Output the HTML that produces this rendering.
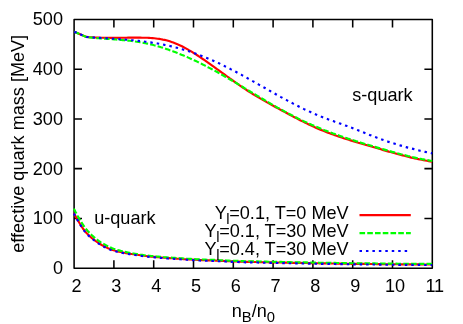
<!DOCTYPE html>
<html><head><meta charset="utf-8"><style>
html,body{margin:0;padding:0;background:#fff;}
svg{display:block;will-change:transform;transform:translateZ(0)}
text{font-family:"Liberation Sans",sans-serif;font-size:18.1px;fill:#000}
</style></head><body>
<svg width="463" height="324" viewBox="0 0 463 324">
<g fill="none" stroke="#000" stroke-width="1.55" stroke-linejoin="round">
<rect x="74.1" y="19.5" width="358.2" height="248.7"/>
<path d="M113.9,268.1 v-7.9 M113.9,19.5 v7.9"/><path d="M153.7,268.1 v-7.9 M153.7,19.5 v7.9"/><path d="M193.5,268.1 v-7.9 M193.5,19.5 v7.9"/><path d="M233.3,268.1 v-7.9 M233.3,19.5 v7.9"/><path d="M273.1,268.1 v-7.9 M273.1,19.5 v7.9"/><path d="M312.9,268.1 v-7.9 M312.9,19.5 v7.9"/><path d="M352.7,268.1 v-7.9 M352.7,19.5 v7.9"/><path d="M392.5,268.1 v-7.9 M392.5,19.5 v7.9"/><path d="M74.1,218.4 h7.9 M432.3,218.4 h-7.9"/><path d="M74.1,168.6 h7.9 M432.3,168.6 h-7.9"/><path d="M74.1,118.9 h7.9 M432.3,118.9 h-7.9"/><path d="M74.1,69.2 h7.9 M432.3,69.2 h-7.9"/>
</g>
<g fill="none" stroke-width="2.15" stroke-linejoin="round">
<path d="M74.3,31.7 L86.4,36.9 L88.1,37.0 L89.9,37.2 L91.6,37.3 L93.4,37.4 L95.1,37.5 L96.8,37.6 L98.6,37.6 L100.3,37.7 L102.0,37.7 L103.8,37.8 L105.5,37.8 L107.3,37.8 L109.0,37.8 L110.7,37.8 L112.5,37.8 L114.2,37.8 L115.9,37.8 L117.7,37.8 L119.4,37.7 L121.2,37.7 L122.9,37.7 L124.6,37.7 L126.4,37.7 L128.1,37.6 L129.8,37.6 L131.6,37.6 L133.3,37.6 L135.1,37.6 L136.8,37.6 L138.5,37.6 L140.3,37.6 L142.0,37.7 L143.7,37.7 L145.5,37.7 L147.2,37.8 L149.0,37.9 L150.7,38.0 L152.4,38.1 L154.2,38.3 L155.9,38.5 L157.6,38.7 L159.4,38.9 L161.1,39.2 L162.9,39.6 L164.6,39.9 L166.3,40.3 L168.1,40.8 L169.8,41.3 L171.5,41.9 L173.3,42.5 L175.0,43.2 L176.8,43.9 L178.5,44.7 L180.2,45.5 L182.0,46.3 L183.7,47.2 L185.4,48.1 L187.2,49.1 L188.9,50.1 L190.7,51.1 L192.4,52.2 L194.1,53.3 L195.9,54.4 L197.6,55.5 L199.3,56.6 L201.1,57.8 L202.8,59.0 L204.6,60.2 L206.3,61.4 L208.0,62.6 L209.8,63.9 L211.5,65.1 L213.3,66.4 L215.0,67.6 L216.7,68.9 L218.5,70.1 L220.2,71.4 L221.9,72.7 L223.7,73.9 L225.4,75.2 L227.2,76.5 L228.9,77.7 L230.6,79.0 L232.4,80.2 L234.1,81.5 L235.8,82.7 L237.6,83.9 L239.3,85.1 L241.1,86.3 L242.8,87.5 L244.5,88.7 L246.3,89.8 L248.0,91.0 L249.7,92.1 L251.5,93.2 L253.2,94.3 L255.0,95.3 L256.7,96.4 L258.4,97.4 L260.2,98.4 L261.9,99.4 L263.6,100.4 L265.4,101.4 L267.1,102.4 L268.9,103.3 L270.6,104.3 L272.3,105.3 L274.1,106.2 L275.8,107.2 L277.5,108.1 L279.3,109.1 L281.0,110.0 L282.8,111.0 L284.5,111.9 L286.2,112.8 L288.0,113.8 L289.7,114.7 L291.4,115.6 L293.2,116.6 L294.9,117.5 L296.7,118.4 L298.4,119.3 L300.1,120.2 L301.9,121.1 L303.6,121.9 L305.3,122.8 L307.1,123.6 L308.8,124.5 L310.6,125.3 L312.3,126.1 L314.0,126.9 L315.8,127.7 L317.5,128.4 L319.3,129.2 L321.0,129.9 L322.7,130.6 L324.5,131.3 L326.2,132.0 L327.9,132.7 L329.7,133.3 L331.4,134.0 L333.2,134.6 L334.9,135.2 L336.6,135.8 L338.4,136.4 L340.1,137.0 L341.8,137.6 L343.6,138.2 L345.3,138.7 L347.1,139.3 L348.8,139.8 L350.5,140.4 L352.3,140.9 L354.0,141.4 L355.7,141.9 L357.5,142.5 L359.2,143.0 L361.0,143.5 L362.7,144.0 L364.4,144.5 L366.2,145.0 L367.9,145.5 L369.6,146.0 L371.4,146.5 L373.1,147.0 L374.9,147.5 L376.6,148.0 L378.3,148.5 L380.1,149.0 L381.8,149.6 L383.5,150.1 L385.3,150.6 L387.0,151.1 L388.8,151.6 L390.5,152.0 L392.2,152.5 L394.0,153.0 L395.7,153.5 L397.4,154.0 L399.2,154.5 L400.9,154.9 L402.7,155.4 L404.4,155.8 L406.1,156.3 L407.9,156.7 L409.6,157.1 L411.3,157.6 L413.1,158.0 L414.8,158.4 L416.6,158.8 L418.3,159.1 L420.0,159.5 L421.8,159.8 L423.5,160.2 L425.2,160.5 L427.0,160.8 L428.7,161.1 L430.5,161.4 L432.2,161.7" stroke="#ff0000"/>
<path d="M74.3,31.7 L86.4,37.1 L88.1,37.3 L89.9,37.5 L91.6,37.6 L93.4,37.8 L95.1,38.0 L96.8,38.1 L98.6,38.2 L100.3,38.4 L102.0,38.5 L103.8,38.6 L105.5,38.8 L107.3,38.9 L109.0,39.0 L110.7,39.1 L112.5,39.3 L114.2,39.4 L115.9,39.5 L117.7,39.7 L119.4,39.8 L121.2,40.0 L122.9,40.1 L124.6,40.3 L126.4,40.5 L128.1,40.6 L129.8,40.8 L131.6,41.0 L133.3,41.3 L135.1,41.5 L136.8,41.8 L138.5,42.0 L140.3,42.3 L142.0,42.6 L143.7,42.9 L145.5,43.3 L147.2,43.6 L149.0,44.0 L150.7,44.4 L152.4,44.8 L154.2,45.3 L155.9,45.7 L157.6,46.2 L159.4,46.7 L161.1,47.3 L162.9,47.8 L164.6,48.4 L166.3,49.0 L168.1,49.6 L169.8,50.2 L171.5,50.8 L173.3,51.4 L175.0,52.1 L176.8,52.8 L178.5,53.5 L180.2,54.2 L182.0,54.9 L183.7,55.6 L185.4,56.4 L187.2,57.1 L188.9,57.9 L190.7,58.7 L192.4,59.5 L194.1,60.3 L195.9,61.1 L197.6,61.9 L199.3,62.8 L201.1,63.6 L202.8,64.5 L204.6,65.4 L206.3,66.3 L208.0,67.2 L209.8,68.1 L211.5,69.0 L213.3,70.0 L215.0,70.9 L216.7,71.8 L218.5,72.8 L220.2,73.8 L221.9,74.8 L223.7,75.7 L225.4,76.7 L227.2,77.7 L228.9,78.8 L230.6,79.8 L232.4,80.8 L234.1,81.8 L235.8,82.8 L237.6,83.9 L239.3,84.9 L241.1,86.0 L242.8,87.0 L244.5,88.1 L246.3,89.1 L248.0,90.2 L249.7,91.2 L251.5,92.3 L253.2,93.3 L255.0,94.3 L256.7,95.4 L258.4,96.4 L260.2,97.5 L261.9,98.5 L263.6,99.5 L265.4,100.6 L267.1,101.6 L268.9,102.6 L270.6,103.6 L272.3,104.6 L274.1,105.6 L275.8,106.6 L277.5,107.6 L279.3,108.5 L281.0,109.5 L282.8,110.4 L284.5,111.4 L286.2,112.3 L288.0,113.2 L289.7,114.1 L291.4,115.0 L293.2,115.9 L294.9,116.8 L296.7,117.7 L298.4,118.6 L300.1,119.4 L301.9,120.3 L303.6,121.1 L305.3,121.9 L307.1,122.7 L308.8,123.5 L310.6,124.3 L312.3,125.1 L314.0,125.8 L315.8,126.6 L317.5,127.3 L319.3,128.0 L321.0,128.8 L322.7,129.5 L324.5,130.2 L326.2,130.8 L327.9,131.5 L329.7,132.2 L331.4,132.8 L333.2,133.5 L334.9,134.1 L336.6,134.7 L338.4,135.3 L340.1,135.9 L341.8,136.5 L343.6,137.1 L345.3,137.7 L347.1,138.3 L348.8,138.9 L350.5,139.4 L352.3,140.0 L354.0,140.5 L355.7,141.1 L357.5,141.6 L359.2,142.2 L361.0,142.7 L362.7,143.2 L364.4,143.8 L366.2,144.3 L367.9,144.8 L369.6,145.3 L371.4,145.8 L373.1,146.4 L374.9,146.9 L376.6,147.4 L378.3,147.9 L380.1,148.4 L381.8,148.9 L383.5,149.4 L385.3,149.9 L387.0,150.4 L388.8,150.9 L390.5,151.4 L392.2,151.9 L394.0,152.3 L395.7,152.8 L397.4,153.3 L399.2,153.7 L400.9,154.2 L402.7,154.6 L404.4,155.1 L406.1,155.5 L407.9,156.0 L409.6,156.4 L411.3,156.8 L413.1,157.2 L414.8,157.6 L416.6,158.0 L418.3,158.3 L420.0,158.7 L421.8,159.1 L423.5,159.4 L425.2,159.8 L427.0,160.1 L428.7,160.4 L430.5,160.7 L432.2,161.0" stroke="#00ff00" stroke-dasharray="5.6,2.15"/>
<path d="M74.3,31.7 L86.4,37.0 L88.1,37.1 L89.9,37.3 L91.6,37.4 L93.4,37.5 L95.1,37.6 L96.8,37.7 L98.6,37.8 L100.3,37.9 L102.0,38.1 L103.8,38.2 L105.5,38.3 L107.3,38.4 L109.0,38.5 L110.7,38.6 L112.5,38.7 L114.2,38.8 L115.9,38.9 L117.7,39.1 L119.4,39.2 L121.2,39.3 L122.9,39.4 L124.6,39.6 L126.4,39.7 L128.1,39.9 L129.8,40.0 L131.6,40.2 L133.3,40.3 L135.1,40.5 L136.8,40.7 L138.5,40.9 L140.3,41.1 L142.0,41.3 L143.7,41.5 L145.5,41.7 L147.2,41.9 L149.0,42.2 L150.7,42.4 L152.4,42.7 L154.2,43.0 L155.9,43.2 L157.6,43.5 L159.4,43.8 L161.1,44.2 L162.9,44.5 L164.6,44.9 L166.3,45.2 L168.1,45.6 L169.8,46.0 L171.5,46.4 L173.3,46.8 L175.0,47.3 L176.8,47.7 L178.5,48.2 L180.2,48.7 L182.0,49.2 L183.7,49.7 L185.4,50.2 L187.2,50.8 L188.9,51.3 L190.7,51.9 L192.4,52.5 L194.1,53.1 L195.9,53.7 L197.6,54.4 L199.3,55.0 L201.1,55.7 L202.8,56.4 L204.6,57.1 L206.3,57.8 L208.0,58.5 L209.8,59.2 L211.5,60.0 L213.3,60.7 L215.0,61.5 L216.7,62.3 L218.5,63.1 L220.2,63.9 L221.9,64.8 L223.7,65.6 L225.4,66.5 L227.2,67.3 L228.9,68.2 L230.6,69.1 L232.4,70.0 L234.1,70.9 L235.8,71.8 L237.6,72.8 L239.3,73.7 L241.1,74.6 L242.8,75.6 L244.5,76.6 L246.3,77.5 L248.0,78.5 L249.7,79.4 L251.5,80.4 L253.2,81.4 L255.0,82.4 L256.7,83.4 L258.4,84.4 L260.2,85.3 L261.9,86.3 L263.6,87.3 L265.4,88.3 L267.1,89.3 L268.9,90.3 L270.6,91.3 L272.3,92.2 L274.1,93.2 L275.8,94.2 L277.5,95.2 L279.3,96.1 L281.0,97.1 L282.8,98.1 L284.5,99.0 L286.2,99.9 L288.0,100.9 L289.7,101.8 L291.4,102.7 L293.2,103.6 L294.9,104.5 L296.7,105.4 L298.4,106.3 L300.1,107.2 L301.9,108.0 L303.6,108.9 L305.3,109.7 L307.1,110.5 L308.8,111.3 L310.6,112.1 L312.3,112.9 L314.0,113.7 L315.8,114.4 L317.5,115.2 L319.3,115.9 L321.0,116.6 L322.7,117.2 L324.5,117.9 L326.2,118.6 L327.9,119.2 L329.7,119.9 L331.4,120.5 L333.2,121.1 L334.9,121.8 L336.6,122.4 L338.4,123.0 L340.1,123.6 L341.8,124.2 L343.6,124.9 L345.3,125.5 L347.1,126.1 L348.8,126.7 L350.5,127.4 L352.3,128.0 L354.0,128.7 L355.7,129.4 L357.5,130.1 L359.2,130.8 L361.0,131.4 L362.7,132.1 L364.4,132.8 L366.2,133.5 L367.9,134.2 L369.6,134.9 L371.4,135.6 L373.1,136.3 L374.9,137.0 L376.6,137.6 L378.3,138.2 L380.1,138.9 L381.8,139.5 L383.5,140.1 L385.3,140.7 L387.0,141.3 L388.8,141.9 L390.5,142.4 L392.2,143.0 L394.0,143.5 L395.7,144.1 L397.4,144.6 L399.2,145.1 L400.9,145.6 L402.7,146.1 L404.4,146.6 L406.1,147.1 L407.9,147.6 L409.6,148.0 L411.3,148.5 L413.1,148.9 L414.8,149.4 L416.6,149.8 L418.3,150.2 L420.0,150.7 L421.8,151.1 L423.5,151.5 L425.2,151.9 L427.0,152.3 L428.7,152.7 L430.5,153.0 L432.2,153.4" stroke="#0000ff" stroke-dasharray="2.5,3.95"/>
<path d="M73.9,213.0 L75.7,216.5 L77.5,219.7 L79.3,222.8 L81.1,225.7 L82.9,228.5 L84.7,230.9 L86.5,233.0 L88.3,234.8 L90.1,236.5 L91.9,238.1 L93.7,239.5 L95.5,240.9 L97.3,242.2 L99.1,243.4 L100.9,244.5 L102.7,245.6 L104.5,246.5 L106.3,247.4 L108.1,248.3 L109.9,249.0 L111.7,249.7 L113.5,250.3 L115.3,250.8 L117.1,251.2 L118.9,251.7 L120.7,252.0 L122.5,252.4 L124.3,252.7 L126.1,253.1 L127.9,253.4 L129.7,253.7 L131.5,254.0 L133.3,254.3 L135.1,254.5 L136.9,254.8 L138.7,255.0 L140.5,255.3 L142.3,255.5 L144.1,255.8 L145.9,256.0 L147.7,256.2 L149.5,256.4 L151.3,256.6 L153.1,256.7 L154.9,256.9 L156.7,257.1 L158.5,257.2 L160.3,257.4 L162.1,257.5 L163.9,257.7 L165.7,257.8 L167.5,258.0 L169.3,258.1 L171.1,258.2 L172.9,258.3 L174.7,258.4 L176.5,258.6 L178.3,258.7 L180.1,258.8 L181.9,258.9 L183.7,259.1 L185.5,259.2 L187.3,259.3 L189.1,259.4 L190.9,259.5 L192.7,259.6 L194.5,259.7 L196.3,259.8 L198.1,259.9 L199.9,260.0 L201.7,260.1 L203.5,260.1 L205.3,260.2 L207.1,260.3 L208.9,260.3 L210.7,260.4 L212.5,260.5 L214.3,260.5 L216.1,260.6 L217.9,260.7 L219.7,260.8 L221.5,260.9 L223.3,260.9 L225.1,261.0 L226.9,261.1 L228.7,261.2 L230.5,261.3 L232.3,261.3 L234.1,261.4 L235.9,261.5 L237.7,261.5 L239.5,261.6 L241.3,261.7 L243.1,261.7 L244.9,261.8 L246.7,261.8 L248.5,261.8 L250.3,261.9 L252.1,261.9 L254.0,262.0 L255.8,262.0 L257.6,262.0 L259.4,262.1 L261.2,262.1 L263.0,262.2 L264.8,262.2 L266.6,262.2 L268.4,262.3 L270.2,262.3 L272.0,262.3 L273.8,262.4 L275.6,262.4 L277.4,262.5 L279.2,262.5 L281.0,262.5 L282.8,262.6 L284.6,262.6 L286.4,262.6 L288.2,262.7 L290.0,262.7 L291.8,262.8 L293.6,262.8 L295.4,262.8 L297.2,262.9 L299.0,262.9 L300.8,262.9 L302.6,263.0 L304.4,263.0 L306.2,263.0 L308.0,263.1 L309.8,263.1 L311.6,263.1 L313.4,263.2 L315.2,263.2 L317.0,263.2 L318.8,263.3 L320.6,263.3 L322.4,263.3 L324.2,263.4 L326.0,263.4 L327.8,263.4 L329.6,263.4 L331.4,263.5 L333.2,263.5 L335.0,263.5 L336.8,263.6 L338.6,263.6 L340.4,263.6 L342.2,263.6 L344.0,263.7 L345.8,263.7 L347.6,263.7 L349.4,263.7 L351.2,263.8 L353.0,263.8 L354.8,263.8 L356.6,263.8 L358.4,263.9 L360.2,263.9 L362.0,263.9 L363.8,263.9 L365.6,263.9 L367.4,264.0 L369.2,264.0 L371.0,264.0 L372.8,264.0 L374.6,264.0 L376.4,264.1 L378.2,264.1 L380.0,264.1 L381.8,264.1 L383.6,264.1 L385.4,264.2 L387.2,264.2 L389.0,264.2 L390.8,264.2 L392.6,264.2 L394.4,264.2 L396.2,264.2 L398.0,264.3 L399.8,264.3 L401.6,264.3 L403.4,264.3 L405.2,264.3 L407.0,264.3 L408.8,264.4 L410.6,264.4 L412.4,264.4 L414.2,264.4 L416.0,264.4 L417.8,264.4 L419.6,264.4 L421.4,264.4 L423.2,264.5 L425.0,264.5 L426.8,264.5 L428.6,264.5 L430.4,264.5 L432.2,264.5" stroke="#ff0000"/>
<path d="M73.9,208.6 L75.7,212.3 L77.5,215.7 L79.3,218.9 L81.1,221.9 L82.9,224.6 L84.7,227.2 L86.5,229.5 L88.3,231.6 L90.1,233.5 L91.9,235.3 L93.7,236.9 L95.5,238.4 L97.3,239.8 L99.1,241.1 L100.9,242.3 L102.7,243.4 L104.5,244.4 L106.3,245.4 L108.1,246.4 L109.9,247.2 L111.7,248.0 L113.5,248.7 L115.3,249.3 L117.1,249.9 L118.9,250.4 L120.7,250.9 L122.5,251.3 L124.3,251.7 L126.1,252.1 L127.9,252.5 L129.7,252.9 L131.5,253.2 L133.3,253.5 L135.1,253.8 L136.9,254.1 L138.7,254.4 L140.5,254.7 L142.3,254.9 L144.1,255.2 L145.9,255.4 L147.7,255.6 L149.5,255.8 L151.3,256.0 L153.1,256.1 L154.9,256.3 L156.7,256.5 L158.5,256.6 L160.3,256.8 L162.1,256.9 L163.9,257.1 L165.7,257.2 L167.5,257.4 L169.3,257.5 L171.1,257.6 L172.9,257.7 L174.7,257.8 L176.5,258.0 L178.3,258.1 L180.1,258.2 L181.9,258.3 L183.7,258.5 L185.5,258.6 L187.3,258.7 L189.1,258.8 L190.9,258.9 L192.7,259.0 L194.5,259.1 L196.3,259.2 L198.1,259.3 L199.9,259.4 L201.7,259.5 L203.5,259.5 L205.3,259.6 L207.1,259.7 L208.9,259.7 L210.7,259.8 L212.5,259.9 L214.3,259.9 L216.1,260.0 L217.9,260.1 L219.7,260.2 L221.5,260.3 L223.3,260.3 L225.1,260.4 L226.9,260.5 L228.7,260.6 L230.5,260.7 L232.3,260.7 L234.1,260.8 L235.9,260.9 L237.7,260.9 L239.5,261.0 L241.3,261.1 L243.1,261.1 L244.9,261.2 L246.7,261.2 L248.5,261.2 L250.3,261.3 L252.1,261.3 L254.0,261.4 L255.8,261.4 L257.6,261.4 L259.4,261.5 L261.2,261.5 L263.0,261.6 L264.8,261.6 L266.6,261.6 L268.4,261.7 L270.2,261.7 L272.0,261.7 L273.8,261.8 L275.6,261.8 L277.4,261.9 L279.2,261.9 L281.0,261.9 L282.8,262.0 L284.6,262.0 L286.4,262.0 L288.2,262.1 L290.0,262.1 L291.8,262.2 L293.6,262.2 L295.4,262.2 L297.2,262.3 L299.0,262.3 L300.8,262.3 L302.6,262.4 L304.4,262.4 L306.2,262.4 L308.0,262.5 L309.8,262.5 L311.6,262.5 L313.4,262.6 L315.2,262.6 L317.0,262.6 L318.8,262.7 L320.6,262.7 L322.4,262.7 L324.2,262.8 L326.0,262.8 L327.8,262.8 L329.6,262.8 L331.4,262.9 L333.2,262.9 L335.0,262.9 L336.8,263.0 L338.6,263.0 L340.4,263.0 L342.2,263.0 L344.0,263.1 L345.8,263.1 L347.6,263.1 L349.4,263.1 L351.2,263.2 L353.0,263.2 L354.8,263.2 L356.6,263.2 L358.4,263.3 L360.2,263.3 L362.0,263.3 L363.8,263.3 L365.6,263.3 L367.4,263.4 L369.2,263.4 L371.0,263.4 L372.8,263.4 L374.6,263.4 L376.4,263.5 L378.2,263.5 L380.0,263.5 L381.8,263.5 L383.6,263.5 L385.4,263.6 L387.2,263.6 L389.0,263.6 L390.8,263.6 L392.6,263.6 L394.4,263.6 L396.2,263.6 L398.0,263.7 L399.8,263.7 L401.6,263.7 L403.4,263.7 L405.2,263.7 L407.0,263.7 L408.8,263.8 L410.6,263.8 L412.4,263.8 L414.2,263.8 L416.0,263.8 L417.8,263.8 L419.6,263.8 L421.4,263.8 L423.2,263.9 L425.0,263.9 L426.8,263.9 L428.6,263.9 L430.4,263.9 L432.2,263.9" stroke="#00ff00" stroke-dasharray="5.6,2.15"/>
<path d="M73.9,213.4 L75.7,216.9 L77.5,220.1 L79.3,223.2 L81.1,226.1 L82.9,228.9 L84.7,231.4 L86.5,233.5 L88.3,235.4 L90.1,237.0 L91.9,238.6 L93.7,240.0 L95.5,241.4 L97.3,242.7 L99.1,243.9 L100.9,245.0 L102.7,246.1 L104.5,247.0 L106.3,247.9 L108.1,248.8 L109.9,249.5 L111.7,250.2 L113.5,250.8 L115.3,251.3 L117.1,251.7 L118.9,252.2 L120.7,252.5 L122.5,252.9 L124.3,253.2 L126.1,253.6 L127.9,253.9 L129.7,254.2 L131.5,254.5 L133.3,254.8 L135.1,255.0 L136.9,255.3 L138.7,255.5 L140.5,255.8 L142.3,256.0 L144.1,256.3 L145.9,256.5 L147.7,256.7 L149.5,256.9 L151.3,257.1 L153.1,257.2 L154.9,257.4 L156.7,257.6 L158.5,257.7 L160.3,257.9 L162.1,258.0 L163.9,258.2 L165.7,258.3 L167.5,258.5 L169.3,258.6 L171.1,258.7 L172.9,258.8 L174.7,258.9 L176.5,259.1 L178.3,259.2 L180.1,259.3 L181.9,259.4 L183.7,259.6 L185.5,259.7 L187.3,259.8 L189.1,259.9 L190.9,260.0 L192.7,260.1 L194.5,260.2 L196.3,260.3 L198.1,260.4 L199.9,260.5 L201.7,260.6 L203.5,260.6 L205.3,260.7 L207.1,260.8 L208.9,260.8 L210.7,260.9 L212.5,261.0 L214.3,261.0 L216.1,261.1 L217.9,261.2 L219.7,261.3 L221.5,261.4 L223.3,261.4 L225.1,261.5 L226.9,261.6 L228.7,261.7 L230.5,261.8 L232.3,261.8 L234.1,261.9 L235.9,262.0 L237.7,262.0 L239.5,262.1 L241.3,262.2 L243.1,262.2 L244.9,262.3 L246.7,262.3 L248.5,262.3 L250.3,262.4 L252.1,262.4 L254.0,262.5 L255.8,262.5 L257.6,262.5 L259.4,262.6 L261.2,262.6 L263.0,262.7 L264.8,262.7 L266.6,262.7 L268.4,262.8 L270.2,262.8 L272.0,262.8 L273.8,262.9 L275.6,262.9 L277.4,263.0 L279.2,263.0 L281.0,263.0 L282.8,263.1 L284.6,263.1 L286.4,263.1 L288.2,263.2 L290.0,263.2 L291.8,263.3 L293.6,263.3 L295.4,263.3 L297.2,263.4 L299.0,263.4 L300.8,263.4 L302.6,263.5 L304.4,263.5 L306.2,263.5 L308.0,263.6 L309.8,263.6 L311.6,263.6 L313.4,263.7 L315.2,263.7 L317.0,263.7 L318.8,263.8 L320.6,263.8 L322.4,263.8 L324.2,263.9 L326.0,263.9 L327.8,263.9 L329.6,263.9 L331.4,264.0 L333.2,264.0 L335.0,264.0 L336.8,264.1 L338.6,264.1 L340.4,264.1 L342.2,264.1 L344.0,264.2 L345.8,264.2 L347.6,264.2 L349.4,264.2 L351.2,264.3 L353.0,264.3 L354.8,264.3 L356.6,264.3 L358.4,264.4 L360.2,264.4 L362.0,264.4 L363.8,264.4 L365.6,264.4 L367.4,264.5 L369.2,264.5 L371.0,264.5 L372.8,264.5 L374.6,264.5 L376.4,264.6 L378.2,264.6 L380.0,264.6 L381.8,264.6 L383.6,264.6 L385.4,264.7 L387.2,264.7 L389.0,264.7 L390.8,264.7 L392.6,264.7 L394.4,264.7 L396.2,264.7 L398.0,264.8 L399.8,264.8 L401.6,264.8 L403.4,264.8 L405.2,264.8 L407.0,264.8 L408.8,264.9 L410.6,264.9 L412.4,264.9 L414.2,264.9 L416.0,264.9 L417.8,264.9 L419.6,264.9 L421.4,264.9 L423.2,265.0 L425.0,265.0 L426.8,265.0 L428.6,265.0 L430.4,265.0 L432.2,265.0" stroke="#0000ff" stroke-dasharray="2.5,3.95"/>
<path d="M359.5,215.05 H410.8" stroke="#ff0000"/>
<path d="M359.5,233.05 H410.8" stroke="#00ff00" stroke-dasharray="5.6,2.15"/>
<path d="M359.5,250.95 H410.8" stroke="#0000ff" stroke-dasharray="2.5,3.95"/>
</g>
<text x="76.6" y="292" text-anchor="middle">2</text><text x="116.4" y="292" text-anchor="middle">3</text><text x="156.2" y="292" text-anchor="middle">4</text><text x="196.0" y="292" text-anchor="middle">5</text><text x="235.8" y="292" text-anchor="middle">6</text><text x="275.6" y="292" text-anchor="middle">7</text><text x="315.4" y="292" text-anchor="middle">8</text><text x="355.2" y="292" text-anchor="middle">9</text><text x="395.0" y="292" text-anchor="middle">10</text><text x="434.8" y="292" text-anchor="middle">11</text>
<text x="63" y="274.0" text-anchor="end">0</text><text x="63" y="224.3" text-anchor="end">100</text><text x="63" y="174.5" text-anchor="end">200</text><text x="63" y="124.8" text-anchor="end">300</text><text x="63" y="75.1" text-anchor="end">400</text><text x="63" y="25.4" text-anchor="end">500</text>
<text x="94.2" y="224">u-quark</text>
<text x="352.3" y="100.5">s-quark</text>
<text x="348.6" y="218.7" text-anchor="end">Y<tspan dx="-0.4" dy="4.8" font-size="14.8">l</tspan><tspan dx="-0.4" dy="-4.8">=0.1, T=0 MeV</tspan></text>
<text x="348.6" y="236.85" text-anchor="end">Y<tspan dx="-0.4" dy="4.8" font-size="14.8">l</tspan><tspan dx="-0.4" dy="-4.8">=0.1, T=30 MeV</tspan></text>
<text x="348.6" y="255.1" text-anchor="end">Y<tspan dx="-0.4" dy="4.8" font-size="14.8">l</tspan><tspan dx="-0.4" dy="-4.8">=0.4, T=30 MeV</tspan></text>
<text x="231.7" y="317.1">n<tspan dy="4.8" font-size="14.8">B</tspan><tspan dy="-4.8">/n</tspan><tspan dy="4.8" font-size="14.8">0</tspan></text>
<text transform="translate(24,143.8) rotate(-90)" text-anchor="middle">effective quark mass [MeV]</text>
</svg>
</body></html>
